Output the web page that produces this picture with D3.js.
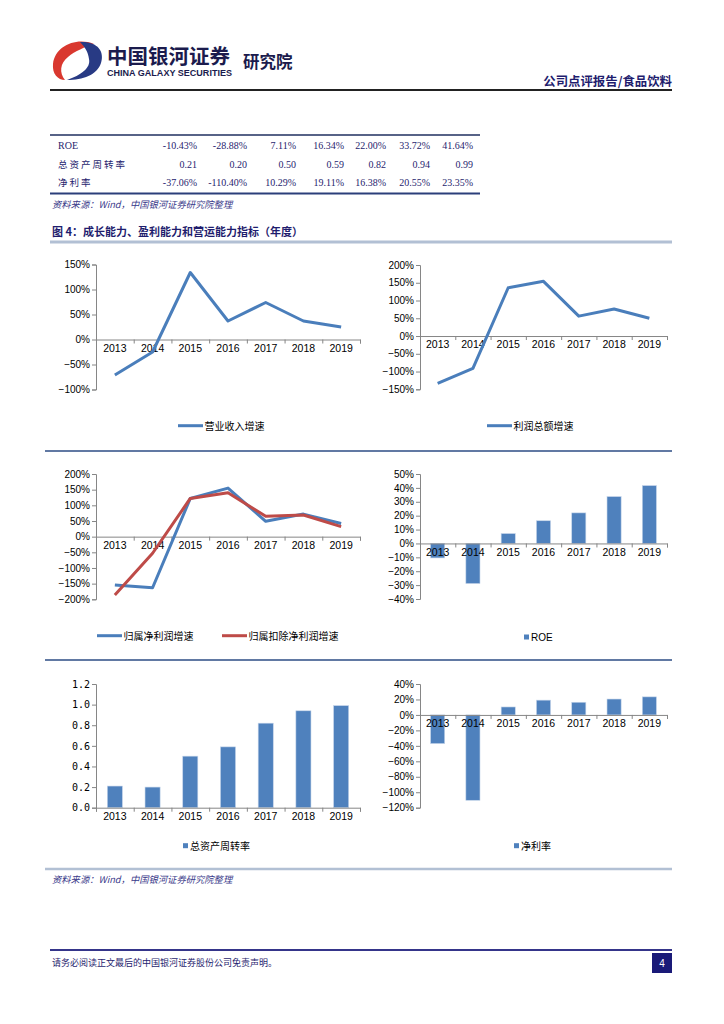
<!DOCTYPE html>
<html><head><meta charset="utf-8">
<script src="https://cdn.jsdelivr.net/npm/d3@7"></script>
<style>body{margin:0;background:#fff;} svg{display:block}</style>
</head><body>
<svg id="c" width="724" height="1024"></svg>
<script>
// ---------- data ----------
const years = ["2013","2014","2015","2016","2017","2018","2019"];
const revenueGrowth = [-71, -25, 134, 37, 74, 37, 25];          // 营业收入增速 %
const profitGrowth = [-133, -91, 136, 154, 56, 76, 50];         // 利润总额增速 %
const netProfitGrowth = [-154, -163, 122, 155, 49, 72, 42];     // 归属净利润增速 %
const deductedProfitGrowth = [-186, -53, 122, 140, 65, 69, 32]; // 归属扣除净利润增速 %
const roe = [-10.43, -28.88, 7.11, 16.34, 22.00, 33.72, 41.64];
const assetTurnover = [0.21, 0.20, 0.50, 0.59, 0.82, 0.94, 0.99];
const netMargin = [-37.06, -110.40, 10.29, 19.11, 16.38, 20.55, 23.35];
const tableRowNames = ["ROE", "总资产周转率", "净利率"];

const svg = d3.select("#c");
const NAVY = "#1f1d6e";
const BLUE = "#4a7ebb", RED = "#be4b48", BAR = "#4f81bd";
const CJK = "'Noto Sans CJK SC', sans-serif";
const SANS = "'Liberation Sans', Arial, sans-serif";

// ---------- header ----------
svg.append("path").attr("fill", "#d9382f")
  .attr("d", "M94,44 C76,37 55,46 53,64 C52,74 58,80 65,80 C59,73 60,63 68,57 C75,51 85,47 94,44 Z");
svg.append("path").attr("fill", "#283a84")
  .attr("d", "M80,42 C97,41 105,51 101,63 C97,75 83,80 67,80 C81,75 91,68 89,59 C88,52 85,47 80,42 Z");
svg.append("text").attr("x", 107).attr("y", 64).attr("font-family", CJK).attr("font-weight", 700)
  .attr("font-size", 20.5).attr("fill", "#1b1b4d").text("中国银河证券");
svg.append("text").attr("x", 107).attr("y", 76).attr("font-family", SANS).attr("font-weight", 700)
  .attr("font-size", 8.6).attr("fill", "#1b1b4d").attr("textLength", 125).attr("lengthAdjust", "spacingAndGlyphs")
  .text("CHINA GALAXY SECURITIES");
svg.append("text").attr("x", 243).attr("y", 68).attr("font-family", CJK).attr("font-weight", 700)
  .attr("font-size", 16.5).attr("fill", "#1b1b4d").text("研究院");
svg.append("text").attr("x", 672).attr("y", 86).attr("text-anchor", "end").attr("font-family", CJK)
  .attr("font-weight", 700).attr("font-size", 12.4).attr("fill", NAVY).text("公司点评报告/食品饮料");
svg.append("line").attr("x1", 50).attr("x2", 672).attr("y1", 90).attr("y2", 90)
  .attr("stroke", "#222").attr("stroke-width", 2);

// ---------- table ----------
const colRight = [197, 247, 296, 344, 386, 430, 473];
const rowY = [145, 164, 182];
const tableCells = [
  roe.map(v => v.toFixed(2) + "%"),
  assetTurnover.map(v => v.toFixed(2)),
  netMargin.map(v => v.toFixed(2) + "%")
];
svg.append("line").attr("x1", 50).attr("x2", 480).attr("y1", 135).attr("y2", 135)
  .attr("stroke", "#1f2f5f").attr("stroke-width", 1.3);
svg.append("line").attr("x1", 50).attr("x2", 480).attr("y1", 193.5).attr("y2", 193.5)
  .attr("stroke", "#2b3f7a").attr("stroke-width", 2);
tableRowNames.forEach((name, r) => {
  svg.append("text").attr("x", 58).attr("y", rowY[r] + 3.5)
    .attr("font-family", r === 0 ? "'Liberation Serif', serif" : CJK)
    .attr("font-size", r === 0 ? 10 : 9.5).attr("fill", NAVY).attr("letter-spacing", r === 0 ? 0 : 2).text(name);
  tableCells[r].forEach((t, c) => {
    svg.append("text").attr("x", colRight[c]).attr("y", rowY[r] + 3.5).attr("text-anchor", "end")
      .attr("font-family", "'Liberation Serif', serif").attr("font-size", 10).attr("fill", NAVY).text(t);
  });
});
function source(y) {
  svg.append("text").attr("x", 52).attr("y", y).attr("font-family", CJK).attr("font-style", "italic")
    .attr("font-size", 9.3).attr("fill", "#3a3a8a").text("资料来源：Wind，中国银河证券研究院整理");
}
source(208);

// ---------- figure title & separators ----------
svg.append("text").attr("x", 52).attr("y", 236).attr("font-family", CJK).attr("font-weight", 700)
  .attr("font-size", 11).attr("fill", NAVY).text("图 4：成长能力、盈利能力和营运能力指标（年度）");
svg.append("line").attr("x1", 50).attr("x2", 672).attr("y1", 242).attr("y2", 242)
  .attr("stroke", "#b2c0d4").attr("stroke-width", 3);
[451, 660].forEach(y => svg.append("line").attr("x1", 45).attr("x2", 672).attr("y1", y).attr("y2", y)
  .attr("stroke", "#2c4c84").attr("stroke-width", 1.5));
svg.append("line").attr("x1", 45).attr("x2", 672).attr("y1", 869).attr("y2", 869)
  .attr("stroke", "#b2c0d4").attr("stroke-width", 2.5);
source(883);

// ---------- footer ----------
svg.append("line").attr("x1", 50).attr("x2", 672).attr("y1", 950).attr("y2", 950)
  .attr("stroke", "#35358a").attr("stroke-width", 2);
svg.append("text").attr("x", 52).attr("y", 966).attr("font-family", CJK).attr("font-size", 9)
  .attr("fill", NAVY).text("请务必阅读正文最后的中国银河证券股份公司免责声明。");
svg.append("rect").attr("x", 652).attr("y", 953).attr("width", 20).attr("height", 20).attr("fill", "#1a1a78");
svg.append("text").attr("x", 662).attr("y", 967).attr("text-anchor", "middle").attr("font-family", SANS)
  .attr("font-size", 10).attr("fill", "#fff").text("4");

// ---------- charts ----------
const pct = d => d3.format("d")(d) + "%";
function chart(o) {
  const g = svg.append("g");
  const x = d3.scaleBand().domain(years).range([o.x0, o.x1]).paddingInner(0.6).paddingOuter(0.3);
  const xb = d3.scaleLinear().domain([0, years.length]).range([o.x0, o.x1]);
  const y = d3.scaleLinear().domain([o.min, o.max]).range([o.yb, o.yt]);
  const ticks = d3.range(o.min, o.max + o.step / 2, o.step);
  const cx = d => x(d) + x.bandwidth() / 2;

  if (o.bars) {
    g.selectAll("rect.bar").data(o.bars).join("rect").attr("class", "bar")
      .attr("x", (d, i) => x(years[i])).attr("width", x.bandwidth())
      .attr("y", d => y(Math.max(0, d))).attr("height", d => Math.abs(y(d) - y(0)))
      .attr("fill", BAR).attr("stroke", "#c5d5ea").attr("stroke-width", 0.6);
  }
  const ya = g.append("g").attr("transform", `translate(${o.x0},0)`)
    .call(d3.axisLeft(y).tickValues(ticks).tickSize(4).tickPadding(2).tickFormat(o.fmt));
  const xa = g.append("g").attr("transform", `translate(0,${y(0)})`)
    .call(d3.axisBottom(xb).tickValues(d3.range(0, years.length + 1)).tickSize(4).tickFormat(""));
  const xl = g.append("g").attr("transform", `translate(0,${y(0)})`)
    .call(d3.axisBottom(x).tickSize(0).tickPadding(o.labelPad || 5));
  xl.select(".domain").remove();
  [ya, xa].forEach(a => { a.select(".domain").attr("stroke", "#868686"); a.selectAll(".tick line").attr("stroke", "#868686"); });
  ya.selectAll("text").attr("font-family", o.tickFont || SANS).attr("font-size", 10).attr("fill", "#000");
  xl.selectAll("text").attr("font-family", SANS).attr("font-size", 10.5).attr("fill", "#000");

  (o.lines || []).forEach(s => {
    g.append("path").datum(s.values)
      .attr("d", d3.line().x((d, i) => cx(years[i])).y(d => y(d)))
      .attr("fill", "none").attr("stroke", s.color).attr("stroke-width", 3).attr("stroke-linejoin", "round");
  });
  o.legend.forEach(l => {
    if (l.type === "line") {
      g.append("line").attr("x1", l.x).attr("x2", l.x + 25).attr("y1", o.ly).attr("y2", o.ly)
        .attr("stroke", l.color).attr("stroke-width", 3);
      g.append("text").attr("x", l.x + 26.5).attr("y", o.ly + 3.8).attr("font-family", CJK)
        .attr("font-size", 10).attr("fill", "#000").text(l.label);
    } else {
      g.append("rect").attr("x", l.x).attr("y", o.ly - 2.5).attr("width", 5).attr("height", 5).attr("fill", BAR);
      g.append("text").attr("x", l.x + 7).attr("y", o.ly + 3.8).attr("font-family", l.label === "ROE" ? SANS : CJK)
        .attr("font-size", 10).attr("fill", "#000").text(l.label);
    }
  });
}

chart({ x0: 96, x1: 360, yt: 264.5, yb: 389.5, min: -100, max: 150, step: 50, fmt: pct,
  lines: [{ values: revenueGrowth, color: BLUE }], ly: 425.7,
  legend: [{ type: "line", x: 178, color: BLUE, label: "营业收入增速" }] });
chart({ x0: 420, x1: 667, yt: 265, yb: 389.3, min: -150, max: 200, step: 50, fmt: pct,
  lines: [{ values: profitGrowth, color: BLUE }], ly: 425.7,
  legend: [{ type: "line", x: 487, color: BLUE, label: "利润总额增速" }] });
chart({ x0: 96, x1: 360, yt: 474, yb: 599.3, min: -200, max: 200, step: 50, fmt: pct,
  lines: [{ values: netProfitGrowth, color: BLUE }, { values: deductedProfitGrowth, color: RED }], ly: 635.7,
  legend: [{ type: "line", x: 97, color: BLUE, label: "归属净利润增速" },
           { type: "line", x: 222, color: RED, label: "归属扣除净利润增速" }] });
chart({ x0: 420, x1: 667, yt: 474, yb: 599, min: -40, max: 50, step: 10, fmt: pct,
  bars: roe, ly: 637,
  legend: [{ type: "square", x: 524, label: "ROE" }] });
chart({ x0: 96, x1: 360, yt: 684, yb: 807.7, min: 0, max: 1.2, step: 0.2, fmt: d3.format(".1f"),
  tickFont: "'DejaVu Sans Mono', monospace",
  bars: assetTurnover, ly: 845.7,
  legend: [{ type: "square", x: 183, label: "总资产周转率" }] });
chart({ x0: 420, x1: 667, yt: 684, yb: 807.7, min: -120, max: 40, step: 20, fmt: pct,
  bars: netMargin, ly: 845.7,
  legend: [{ type: "square", x: 514, label: "净利率" }] });
</script>
</body></html>
